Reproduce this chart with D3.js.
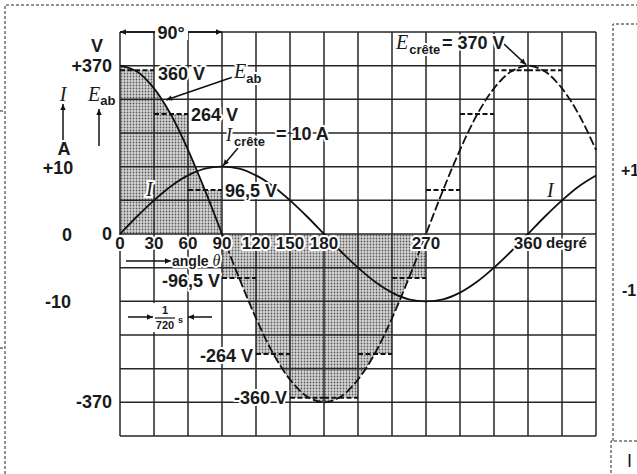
<!DOCTYPE html>
<html><head><meta charset="utf-8">
<script src="https://cdn.jsdelivr.net/npm/d3@7"></script>
<style>
body{margin:0;background:#fff}
svg{display:block}
text{font-family:"Liberation Sans",Arial,sans-serif;fill:#1a1a1a}
.halo{stroke:#fff;stroke-width:4px;stroke-linejoin:round;paint-order:stroke}
.serif{font-family:"Liberation Serif","DejaVu Serif",serif;font-style:italic;font-weight:normal}
</style>
</head><body>
<svg id="c" width="637" height="474"></svg>
<script>
// ---------- data ----------
const gridAngles = [0,30,60,90,120,150,180,210,240,270,300,330,360,390,420];
const gridVolts = [-444,-370,-296,-222,-148,-74,0,74,148,222,296,370,444];
const angleTickLabels = [0,30,60,90,120,150,180,270];
const voltTickLabels = ["+370","0","-370"];
const voltTickValues = [370,0,-370];
const ampTickLabels = ["+10","0","-10"];
const ampTickValues = [10,0,-10];
// curve readings every 15 degrees
const curveAngles = [0,15,30,45,60,75,90,105,120,135,150,165,180,195,210,225,240,255,270,285,300,315,330,345,360,375,390,405,420];
const eabValues = [370,357,320,262,185,96,0,-96,-185,-262,-320,-357,-370,-357,-320,-262,-185,-96,0,96,185,262,320,357,370,357,320,262,185];
const iValues = [0,2.6,5,7.1,8.7,9.7,10,9.7,8.7,7.1,5,2.6,0,-2.6,-5,-7.1,-8.7,-9.7,-10,-9.7,-8.7,-7.1,-5,-2.6,0,2.6,5,7.1,8.7];
// average values over 30-degree steps
const stepStarts = [0,30,60,90,120,150,180,210,240,270,300,330,360];
const stepValues = [360,264,96.5,-96.5,-264,-360,-360,-264,-96.5,96.5,264,360,360];
const stepShaded = [true,true,true,true,true,true,true,true,true,false,false,false,false];
const stepWidth = 30;

// ---------- scales ----------
const svg = d3.select("#c");
const x = d3.scaleLinear().domain([0,420]).range([120,596]);
const yV = d3.scaleLinear().domain([-444,444]).range([436,32]);
const yA = d3.scaleLinear().domain([-30,30]).range([436,32]);

const defs = svg.append("defs");
const pat = defs.append("pattern").attr("id","dots").attr("width",3).attr("height",3).attr("patternUnits","userSpaceOnUse");
pat.append("rect").attr("width",3).attr("height",3).attr("fill","#d6d6d6");
pat.append("circle").attr("cx",1.5).attr("cy",1.5).attr("r",0.9).attr("fill","#5a5a5a");
defs.append("marker").attr("id","arr").attr("viewBox","0 0 10 10").attr("refX",10).attr("refY",5)
  .attr("markerWidth",8).attr("markerHeight",6).attr("markerUnits","userSpaceOnUse")
  .attr("orient","auto-start-reverse")
  .append("path").attr("d","M0,0.5 L10,5 L0,9.5 z").attr("fill","#111");

// ---------- page frame (dashed) ----------
const frame = svg.append("g").attr("fill","none").attr("stroke","#222").attr("stroke-width",1).attr("stroke-dasharray","3,2");
frame.append("path").attr("d","M5,474 V5 H637");
frame.append("path").attr("d","M0,111 H5 M0,348 H5");
frame.append("path").attr("d","M613,441 V24 H637");
frame.append("path").attr("d","M637,441 H611 V474");
svg.append("text").attr("x",621).attr("y",176).attr("font-size",16).attr("font-weight","bold").attr("fill","#444").text("+1");
svg.append("text").attr("x",622).attr("y",296).attr("font-size",16).attr("font-weight","bold").attr("fill","#444").text("-1");
svg.append("text").attr("x",627).attr("y",467).attr("font-size",18).attr("font-family","Liberation Serif").text("I");

// ---------- shading ----------
const data = curveAngles.map((a,i)=>({a, e:eabValues[i], i:iValues[i]}));
const steps = stepStarts.map((s,i)=>({s, v:stepValues[i], shaded:stepShaded[i]}));
const area = d3.area().x(d=>x(d.a)).y0(yV(0)).y1(d=>yV(d.e)).curve(d3.curveCatmullRom);
svg.append("path").datum(data.filter(d=>d.a<=270)).attr("d",area).attr("fill","url(#dots)");
svg.selectAll("rect.step").data(steps.filter(d=>d.shaded)).join("rect").attr("class","step")
  .attr("x",d=>x(d.s)).attr("width",d=>x(d.s+stepWidth)-x(d.s))
  .attr("y",d=>Math.min(yV(d.v),yV(0))).attr("height",d=>Math.abs(yV(d.v)-yV(0)))
  .attr("fill","url(#dots)");

// ---------- grid ----------
const grid = svg.append("g").attr("stroke","#262626").attr("stroke-width",1.5);
grid.selectAll("line.v").data(gridAngles).join("line")
  .attr("x1",d=>x(d)).attr("x2",d=>x(d)).attr("y1",yV(444)).attr("y2",yV(-444));
grid.selectAll("line.h").data(gridVolts).join("line")
  .attr("y1",d=>yV(d)).attr("y2",d=>yV(d)).attr("x1",x(0)).attr("x2",x(420));

// ---------- step dashed tops ----------
svg.selectAll("line.st").data(steps).join("line")
  .attr("x1",d=>x(d.s)).attr("x2",d=>x(d.s+stepWidth)).attr("y1",d=>yV(d.v)).attr("y2",d=>yV(d.v))
  .attr("stroke","#111").attr("stroke-width",2).attr("stroke-dasharray","5,2.5");

// ---------- curves ----------
const lineE = d3.line().x(d=>x(d.a)).y(d=>yV(d.e)).curve(d3.curveCatmullRom);
const lineI = d3.line().x(d=>x(d.a)).y(d=>yA(d.i)).curve(d3.curveCatmullRom);
svg.append("path").datum(data.filter(d=>d.a<=90)).attr("d",lineE).attr("fill","none").attr("stroke","#111").attr("stroke-width",1.8);
svg.append("path").datum(data.filter(d=>d.a>=90)).attr("d",lineE).attr("fill","none").attr("stroke","#111").attr("stroke-width",1.8).attr("stroke-dasharray","9,3");
svg.append("path").datum(data).attr("d",lineI).attr("fill","none").attr("stroke","#111").attr("stroke-width",1.8);

// ---------- axis labels ----------
const big = 18;
svg.selectAll("text.xt").data(angleTickLabels).join("text").attr("class","xt halo")
  .attr("x",d=>x(d)).attr("y",yV(0)+15).attr("text-anchor","middle")
  .attr("font-size",17).attr("font-weight","bold").text(d=>d);
svg.append("text").attr("class","halo").attr("x",x(360)).attr("y",yV(0)+15).attr("text-anchor","middle")
  .attr("font-size",17).attr("font-weight","bold").text("360");
svg.append("text").attr("class","halo").attr("x",x(360)+18).attr("y",yV(0)+14)
  .attr("font-size",15).attr("font-weight","bold").text("degré");

svg.selectAll("text.yv").data(voltTickValues).join("text").attr("class","yv")
  .attr("x",112).attr("y",d=>yV(d)+6).attr("text-anchor","end")
  .attr("font-size",big).attr("font-weight","bold").text((d,i)=>voltTickLabels[i]);
svg.selectAll("text.ya").data(ampTickValues).join("text").attr("class","ya")
  .attr("x",d=>d===0?67:58).attr("y",d=>yA(d)+7).attr("text-anchor","middle")
  .attr("font-size",big).attr("font-weight","bold").text((d,i)=>ampTickLabels[i]);
svg.append("text").attr("x",97).attr("y",52).attr("text-anchor","middle").attr("font-size",big).attr("font-weight","bold").text("V");
svg.append("text").attr("x",64).attr("y",155).attr("text-anchor","middle").attr("font-size",big).attr("font-weight","bold").text("A");
svg.append("text").attr("class","serif").attr("x",63).attr("y",101).attr("text-anchor","middle").attr("font-size",20).text("I");
const eab = svg.append("text").attr("x",88).attr("y",101).attr("font-size",20);
eab.append("tspan").attr("class","serif").text("E");
eab.append("tspan").attr("font-size",13).attr("font-weight","bold").attr("dy",4).text("ab");
const arrows = svg.append("g").attr("stroke","#111").attr("stroke-width",1.5).attr("fill","none");
arrows.append("line").attr("x1",63).attr("y1",140).attr("x2",63).attr("y2",104).attr("marker-end","url(#arr)");
arrows.append("line").attr("x1",99).attr("y1",146).attr("x2",99).attr("y2",109).attr("marker-end","url(#arr)");

// ---------- 90 degree dimension ----------
arrows.append("line").attr("x1",x(0)).attr("x2",x(90)).attr("y1",yV(444)).attr("y2",yV(444))
  .attr("marker-start","url(#arr)").attr("marker-end","url(#arr)");
svg.append("rect").attr("x",155).attr("y",24).attr("width",33).attr("height",16).attr("fill","#fff");
svg.append("text").attr("x",171).attr("y",39).attr("text-anchor","middle").attr("font-size",big).attr("font-weight","bold").text("90°");

// ---------- step value labels ----------
const lab = (txt,xx,yy,anchor)=>svg.append("text").attr("class","halo").attr("x",xx).attr("y",yy)
  .attr("text-anchor",anchor||"start").attr("font-size",big).attr("font-weight","bold").text(txt);
lab("360 V", x(30)+4, yV(360)+10);
lab("264 V", x(60)+3, yV(264)+7);
lab("96,5 V", x(90)+3, yV(96.5)+7);
lab("-96,5 V", x(90)-2, yV(-96.5)+9, "end");
lab("-264 V", x(120)-3, yV(-264)+8, "end");
lab("-360 V", x(150)-3, yV(-360)+6, "end");

// ---------- E_ab pointer ----------
const eLab = svg.append("text").attr("class","halo").attr("x",234).attr("y",78).attr("font-size",20);
eLab.append("tspan").attr("class","serif").text("E");
eLab.append("tspan").attr("font-size",13).attr("font-weight","bold").attr("dy",5).text("ab");
arrows.append("line").attr("x1",233).attr("y1",77).attr("x2",166).attr("y2",100).attr("marker-end","url(#arr)");

// ---------- I_crete ----------
const ic = svg.append("text").attr("class","halo").attr("x",226).attr("y",141).attr("font-size",18);
ic.append("tspan").attr("class","serif").text("I");
ic.append("tspan").attr("font-size",13).attr("font-weight","bold").attr("dy",5).attr("dx",2).text("crête");
svg.append("text").attr("class","halo").attr("x",276).attr("y",140).attr("font-size",big).attr("font-weight","bold").text("= 10 A");
arrows.append("line").attr("x1",238).attr("y1",148).attr("x2",x(90)+1).attr("y2",yA(10)-1).attr("marker-end","url(#arr)");

// ---------- E_crete ----------
const ec = svg.append("text").attr("class","halo").attr("x",396).attr("y",49).attr("font-size",20);
ec.append("tspan").attr("class","serif").text("E");
ec.append("tspan").attr("font-size",13).attr("font-weight","bold").attr("dy",5).attr("dx",1).text("crête");
svg.append("text").attr("class","halo").attr("x",442).attr("y",49).attr("font-size",big).attr("font-weight","bold").text("= 370 V");
arrows.append("line").attr("x1",504).attr("y1",44).attr("x2",x(360)-2).attr("y2",yV(370)-1).attr("marker-end","url(#arr)");

// ---------- I curve labels ----------
svg.append("text").attr("class","serif halo").attr("x",146).attr("y",196).attr("font-size",20).text("I");
svg.append("text").attr("class","serif halo").attr("x",547).attr("y",197).attr("font-size",20).text("I");

// ---------- angle theta & time ----------
arrows.append("line").attr("x1",126).attr("x2",171).attr("y1",261).attr("y2",261).attr("marker-end","url(#arr)");
const at = svg.append("text").attr("class","halo").attr("x",172).attr("y",266).attr("font-size",14).attr("font-weight","bold");
at.append("tspan").text("angle ");
at.append("tspan").attr("class","serif").attr("font-size",16).text("θ");
arrows.append("line").attr("x1",128).attr("x2",153).attr("y1",317).attr("y2",317).attr("marker-end","url(#arr)");
arrows.append("line").attr("x1",212).attr("x2",188).attr("y1",317).attr("y2",317).attr("marker-end","url(#arr)");
svg.append("rect").attr("x",153).attr("y",303).attr("width",33).attr("height",29).attr("fill","#fff");
svg.append("text").attr("x",165).attr("y",314).attr("text-anchor","middle").attr("font-size",11).attr("font-weight","bold").text("1");
svg.append("line").attr("x1",155).attr("x2",175).attr("y1",318).attr("y2",318).attr("stroke","#111").attr("stroke-width",1.2);
svg.append("text").attr("x",165).attr("y",329).attr("text-anchor","middle").attr("font-size",11).attr("font-weight","bold").text("720");
svg.append("text").attr("x",178).attr("y",323).attr("font-size",9).attr("font-weight","bold").text("s");
</script>
</body></html>
